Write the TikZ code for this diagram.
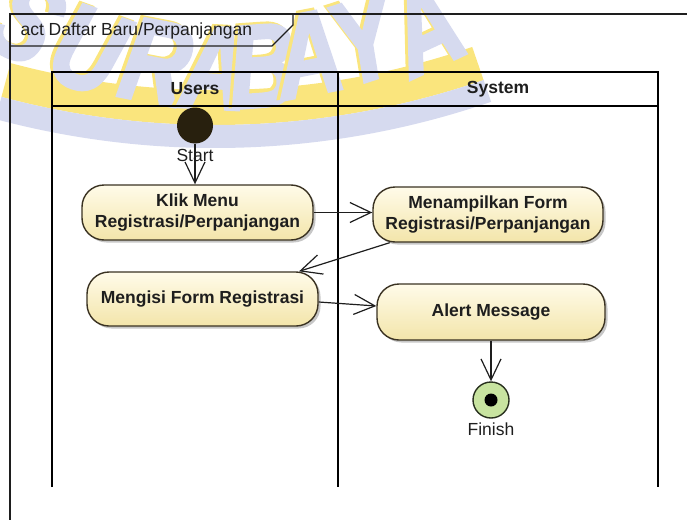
\documentclass[tikz,border=0pt]{standalone}
\usepackage{fontspec}
\setmainfont{Liberation Sans}
\newfontfamily\sealfont[FakeStretch=0.78, UprightFont=* Bold Italic, FakeBold=2.5]{Liberation Sans}
\usetikzlibrary{arrows.meta,calc}

\definecolor{wmlav}{RGB}{214,218,239}
\definecolor{wmyel}{RGB}{250,229,125}
\definecolor{actfillA}{RGB}{255,251,233}
\definecolor{actfillB}{RGB}{243,229,170}
\definecolor{actline}{RGB}{58,50,34}
\definecolor{inkdark}{RGB}{30,30,30}
\definecolor{startfill}{RGB}{40,32,14}
\definecolor{finfill}{RGB}{200,228,160}
\definecolor{finedge}{RGB}{40,48,30}

\begin{document}
\begin{tikzpicture}[x=1pt,y=-1pt,
  wmletter/.style={font=\sealfont\fontsize{118}{118}\selectfont, inner sep=0pt},
  frameline/.style={draw=inkdark, line width=1.3pt},
  laneline/.style={draw=black, line width=1.6pt},
  hdrtext/.style={font=\fontsize{17.5}{21}\selectfont\bfseries, text=inkdark},
  plaintext/.style={font=\fontsize{17.5}{21}\selectfont, text=inkdark},
  action/.style={rectangle, rounded corners=22pt, draw=actline, line width=1.4pt,
    top color=actfillA, bottom color=actfillB,
    preaction={fill=black!22, transform canvas={xshift=2.5pt, yshift=-2.5pt}},
    minimum width=#1, minimum height=55pt, inner sep=0pt, align=center,
    font=\fontsize{17.5}{21}\selectfont\bfseries, text=inkdark},
  flow/.style={draw=inkdark, line width=1.2pt, -{Straight Barb[length=21pt, width=20pt, line width=1.2pt]}}
]
\useasboundingbox (0,0) rectangle (687,519);
\clip (0,0) rectangle (687,519);

% ---- watermark seal: ring bands and lettering ----
\fill[wmyel] ($(215,-700)+(71:790)$) arc[start angle=71, end angle=105, radius=790]
  -- ($(215,-700)+(105:825)$) arc[start angle=105, end angle=71, radius=825] -- cycle;
\fill[wmlav] ($(215,-700)+(71:825)$) arc[start angle=71, end angle=105, radius=825]
  -- ($(215,-700)+(105:848)$) arc[start angle=105, end angle=71, radius=848] -- cycle;
\foreach \ch/\px/\py/\rot in {S/26/20/-30, U/88/50/-20, R/156/62/-11, A/214/68/-3,
                              B/262/66/4, A/308/54/11, Y/363/40/18, A/425/28/25} {
  \node[wmletter, text=wmyel, rotate=\rot] at (\px-3,\py-2) {\ch};
  \node[wmletter, text=wmlav, rotate=\rot] at (\px,\py) {\ch};
}

% ---- activity frame with name tab ----
\draw[frameline] (10,530) -- (10,14) -- (700,14);
\draw[frameline] (10,46) -- (272,46) -- (293,25) -- (293,14);
\node[plaintext, anchor=west] (frametitle) at (17,31) {act Daftar Baru/Perpanjangan};

% ---- swimlanes ----
\draw[laneline] (52,487) -- (52,72) -- (658,72) -- (658,487);
\draw[laneline] (52,106) -- (658,106);
\draw[laneline] (338,72) -- (338,487);
\node[hdrtext] (usershdr) at (195,89) {Users};
\node[hdrtext] (systemhdr) at (498,89) {System};

% ---- initial and final nodes ----
\node[circle, fill=startfill, minimum size=36pt, inner sep=0pt] (start) at (195,125.5) {};
\node[circle, draw=finedge, line width=1.4pt, fill=finfill, minimum size=36pt, inner sep=0pt] (finish) at (491,400) {};
\node[circle, fill=black, minimum size=13pt, inner sep=0pt] (findot) at (finish) {};

% ---- actions ----
\node[action=231pt] (klik) at (197.5,212.5) {Klik Menu\\Registrasi/Perpanjangan};
\node[action=230pt] (tampil) at (488,214.5) {Menampilkan Form\\Registrasi/Perpanjangan};
\node[action=231pt, minimum height=54pt] (isi) at (202.5,299) {Mengisi Form Registrasi};
\node[action=228pt, minimum height=56pt] (alert) at (491,312) {Alert Message};

% ---- control flows ----
\draw[flow] (start.south) -- (start.south |- klik.north);
\draw[flow] (klik.east) -- (klik.east -| tampil.west);
\draw[flow] (tampil.196) -- (isi.16);
\draw[flow] ([yshift=-3pt]isi.east) -- ([yshift=6pt]alert.west);
\draw[flow] (alert.south) -- (finish.north);

% ---- labels of initial and final nodes ----
\node[plaintext] (startlbl) at (195,155) {Start};
\node[plaintext] (finlbl) at (491,429) {Finish};
\end{tikzpicture}
\end{document}
